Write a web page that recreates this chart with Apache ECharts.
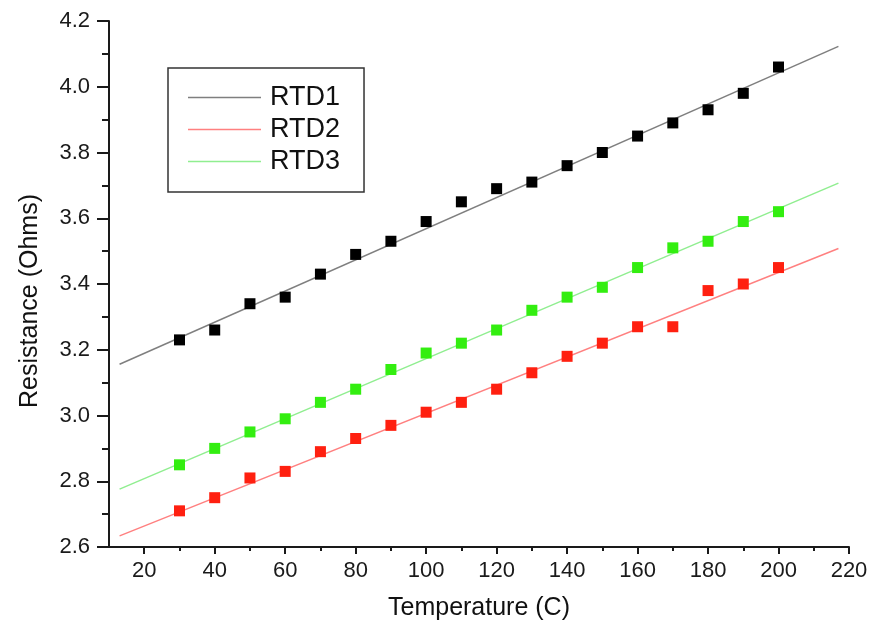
<!DOCTYPE html>
<html>
<head>
<meta charset="utf-8">
<script src="https://cdn.jsdelivr.net/npm/echarts@6/dist/echarts.min.js"></script>
<style>
html,body{margin:0;padding:0;background:#fff;}
#c{width:873px;height:632px;}
</style>
</head>
<body>
<div id="c"></div>
<script>
// ---- data ----
var temps = [30,40,50,60,70,80,90,100,110,120,130,140,150,160,170,180,190,200];
var rtd1 = [3.23,3.26,3.34,3.36,3.43,3.49,3.53,3.59,3.65,3.69,3.71,3.76,3.80,3.85,3.89,3.93,3.98,4.06];
var rtd2 = [2.71,2.75,2.81,2.83,2.89,2.93,2.97,3.01,3.04,3.08,3.13,3.18,3.22,3.27,3.27,3.38,3.40,3.45];
var rtd3 = [2.85,2.90,2.95,2.99,3.04,3.08,3.14,3.19,3.22,3.26,3.32,3.36,3.39,3.45,3.51,3.53,3.59,3.62];
// fitted lines (end points)
var fitX = [13, 217];
var fit1 = [3.156, 4.123];
var fit2 = [2.634, 3.508];
var fit3 = [2.776, 3.707];
var xMajorTicks = [20,40,60,80,100,120,140,160,180,200,220];
var xMinorTicks = [30,50,70,90,110,130,150,170,190,210];
var legendNames = ['RTD1','RTD2','RTD3'];

function pairs(xs, ys){ return xs.map(function(x,i){ return [x, ys[i]]; }); }

var font = '"Liberation Sans", Arial, sans-serif';
var axisColor = '#1a1a1a';

var chart = echarts.init(document.getElementById('c'), null, {renderer:'canvas'});
chart.setOption({
  animation: false,
  backgroundColor: '#fff',
  textStyle: {fontFamily: font},
  grid: {left: 109, right: 24, top: 21, bottom: 85},
  legend: {
    orient: 'vertical',
    left: 168, top: 68,
    data: legendNames.map(function(n){ return {name: n, icon: 'rect'}; }),
    itemWidth: 73, itemHeight: 1.6, itemGap: 5,
    padding: [16, 24, 17, 20],
    borderColor: '#333', borderWidth: 1.5,
    textStyle: {fontSize: 27, lineHeight: 26, color: '#111', fontFamily: font, padding: [0,0,0,4]},
    selectedMode: false
  },
  xAxis: [{
    type: 'value', min: 10, max: 220, interval: 10,
    name: 'Temperature (C)', nameLocation: 'middle', nameGap: 49,
    nameTextStyle: {fontSize: 25, color: '#111', fontFamily: font},
    axisLine: {show: true, onZero: false, lineStyle: {color: axisColor, width: 2}},
    axisTick: {show: true, customValues: xMajorTicks, length: 7, lineStyle: {color: axisColor, width: 2}},
    axisLabel: {customValues: xMajorTicks, fontSize: 22, color: '#1a1a1a', margin: 13, fontFamily: font},
    splitLine: {show: false}
  },{
    type: 'value', min: 10, max: 220, interval: 10, position: 'bottom',
    axisLine: {show: false},
    axisTick: {show: true, customValues: xMinorTicks, length: 4, lineStyle: {color: axisColor, width: 2}},
    axisLabel: {show: false},
    splitLine: {show: false}
  }],
  yAxis: {
    type: 'value', min: 2.6, max: 4.2, interval: 0.2,
    name: 'Resistance (Ohms)', nameLocation: 'middle', nameGap: 66,
    nameTextStyle: {fontSize: 25, color: '#111', fontFamily: font, padding: [0, 34, 0, 0]},
    axisLine: {show: true, onZero: false, lineStyle: {color: axisColor, width: 2}},
    axisTick: {show: true, length: 12, lineStyle: {color: axisColor, width: 2}},
    minorTick: {show: true, splitNumber: 2, length: 7, lineStyle: {color: axisColor, width: 2}},
    axisLabel: {fontSize: 22, color: '#1a1a1a', margin: 19, fontFamily: font,
      formatter: function(v){ return v.toFixed(1); }},
    splitLine: {show: false}
  },
  series: [
    {name: 'RTD1', type: 'line', data: pairs(fitX, fit1), symbol: 'none', lineStyle: {color: '#7f7f7f', width: 1.5}, itemStyle: {color: '#7f7f7f'}, z: 2},
    {name: 'RTD2', type: 'line', data: pairs(fitX, fit2), symbol: 'none', lineStyle: {color: '#ff8080', width: 1.5}, itemStyle: {color: '#ff8080'}, z: 2},
    {name: 'RTD3', type: 'line', data: pairs(fitX, fit3), symbol: 'none', lineStyle: {color: '#90ee90', width: 1.5}, itemStyle: {color: '#90ee90'}, z: 2},
    {name: 'RTD1 data', type: 'scatter', data: pairs(temps, rtd1), symbol: 'rect', symbolSize: 11, itemStyle: {color: '#000', opacity: 1}, z: 3},
    {name: 'RTD2 data', type: 'scatter', data: pairs(temps, rtd2), symbol: 'rect', symbolSize: 11, itemStyle: {color: '#ff2010', opacity: 1}, z: 3},
    {name: 'RTD3 data', type: 'scatter', data: pairs(temps, rtd3), symbol: 'rect', symbolSize: 11, itemStyle: {color: '#33ee10', opacity: 1}, z: 3}
  ]
});
</script>
</body>
</html>
